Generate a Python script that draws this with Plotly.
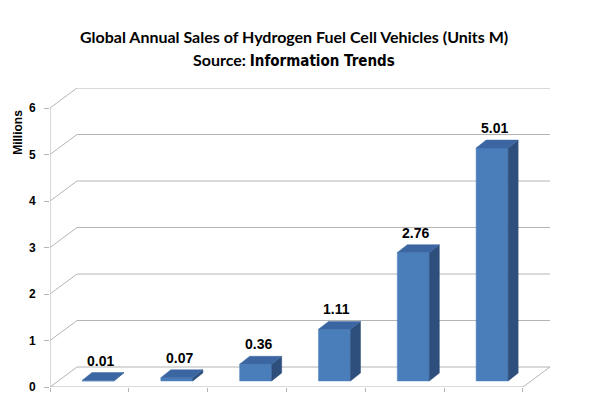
import plotly.graph_objects as go

# ---- data ----
categories = ["1", "2", "3", "4", "5", "6"]
values = [0.01, 0.07, 0.36, 1.11, 2.76, 5.01]
value_labels = ["0.01", "0.07", "0.36", "1.11", "2.76", "5.01"]
y_ticks = [0, 1, 2, 3, 4, 5, 6]

# ---- pseudo-3D geometry (styling constants, in axis units) ----
DX, DY = 0.343, 0.43          # wall depth
OX, OY = 0.109, 0.13          # bar plane offset
W = 0.406                     # bar width
BDX, BDY = 0.127, 0.17        # bar depth
N = len(categories)
YMAX = max(y_ticks)

GRID = "#b4b4b4"
FRONT = "#4a7ebb"
SIDE = "#2e4f7c"
TOP = "#3b66a2"

fig = go.Figure()

gx, gy = [], []
for v in y_ticks:
    gx += [0, DX, N + DX, None]
    gy += [v, v + DY, v + DY, None]
gx += [0, N, N + DX, None]
gy += [0, 0, DY, None]
gx += [0, 0, None]
gy += [0, YMAX, None]
fig.add_trace(go.Scatter(x=gx, y=gy, mode="lines", line=dict(color=GRID, width=1),
                         hoverinfo="skip", showlegend=False, cliponaxis=False))

def poly(pts):
    xs = [p[0] for p in pts] + [pts[0][0]]
    ys = [p[1] for p in pts] + [pts[0][1]]
    return xs, ys

for i, v in enumerate(values):
    cx = i + 0.5 + OX
    x0, x1 = cx - W / 2, cx + W / 2
    yb, yt = OY, v + OY
    faces = [
        ([(x0, yb), (x1, yb), (x1, yt), (x0, yt)], FRONT),
        ([(x1, yb), (x1 + BDX, yb + BDY), (x1 + BDX, yt + BDY), (x1, yt)], SIDE),
        ([(x0, yt), (x1, yt), (x1 + BDX, yt + BDY), (x0 + BDX, yt + BDY)], TOP),
    ]
    for pts, col in faces:
        xs, ys = poly(pts)
        fig.add_trace(go.Scatter(x=xs, y=ys, mode="lines", fill="toself",
                                 fillcolor=col, line=dict(color=col, width=0.5),
                                 hoverinfo="skip", showlegend=False))
    fig.add_annotation(x=cx + 0.03, y=yt + BDY, text="<b>%s</b>" % value_labels[i],
                       showarrow=False, xanchor="center", yanchor="bottom", yshift=2,
                       font=dict(family="Liberation Sans, Arial", size=14, color="#000"))

fig.add_annotation(xref="paper", yref="paper", x=0.488, y=1.172, xanchor="center", yanchor="middle",
                   text="<b>Global Annual Sales of Hydrogen Fuel Cell Vehicles (Units M)</b>",
                   showarrow=False, font=dict(family="Lato, Liberation Sans", size=16, color="#000"))
fig.add_annotation(xref="paper", yref="paper", x=0.488, y=1.093, xanchor="center", yanchor="middle",
                   text="<b>Source: </b><span style='font-family:DejaVu Sans Condensed;font-stretch:condensed;font-size:15px'><b>Information Trends</b></span>",
                   showarrow=False, font=dict(family="Lato, Liberation Sans", size=16, color="#000"))
fig.add_annotation(xref="paper", yref="paper", x=-0.064, y=0.85, xanchor="center", yanchor="middle",
                   text="<b>Millions</b>", textangle=-90, showarrow=False,
                   font=dict(family="Liberation Sans, Arial", size=12, color="#000"))

fig.update_layout(
    width=582, height=386,
    margin=dict(l=42, r=40, t=80, b=7, autoexpand=False),
    paper_bgcolor="white", plot_bgcolor="white",
    showlegend=False,
    xaxis=dict(range=[0, N + DX], showgrid=False, zeroline=False, showline=False,
               tickmode="array", tickvals=list(range(N + 1)), showticklabels=False,
               ticks="outside", ticklen=4, tickcolor=GRID, fixedrange=True, automargin=False),
    yaxis=dict(range=[0, YMAX + DY], showgrid=False, zeroline=False, showline=False,
               tickmode="array", tickvals=y_ticks, ticktext=["<b>%d</b>" % t for t in y_ticks],
               ticks="outside", ticklen=5, tickcolor=GRID, ticklabelstandoff=6,
               ticklabeloverflow="allow",
               tickfont=dict(family="Liberation Sans, Arial", size=12, color="#000"),
               fixedrange=True, automargin=False),
    shapes=[dict(type="line", xref="paper", yref="paper", x0=1.07, x1=1.07, y0=-0.03, y1=1.3,
                 line=dict(color="#a0a0a0", width=2), layer="above")],
)

fig.write_html("out.html")
